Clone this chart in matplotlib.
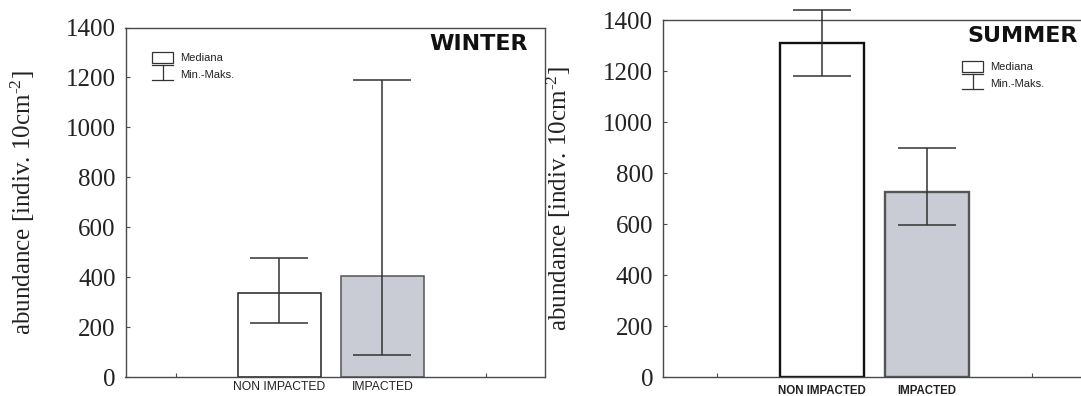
import matplotlib
matplotlib.use("Agg")
import matplotlib.pyplot as plt
from matplotlib.patches import Rectangle
from matplotlib.lines import Line2D

plt.rcParams['mathtext.fontset'] = 'custom'
plt.rcParams['mathtext.rm'] = 'Liberation Serif'
plt.rcParams['mathtext.it'] = 'Liberation Serif:italic'
plt.rcParams['mathtext.bf'] = 'Liberation Serif:bold'

# ---- data ----
categories = ["NON IMPACTED", "IMPACTED"]
winter_median = [337, 403]
winter_min = [217, 88]
winter_max = [477, 1189]
summer_median = [1312, 728]
summer_min = [1182, 597]
summer_max = [1442, 897]
yticks = [0, 200, 400, 600, 800, 1000, 1200, 1400]
ylabel = r"abundance [indiv. 10cm$^{\text{-2}}$]"
legend_labels = ["Mediana", "Min.-Maks."]

W, H = 1081, 396
fig = plt.figure(figsize=(W / 100, H / 100), dpi=100)

def px_axes(l, r, t, b):
    return fig.add_axes([l / W, (H - b) / H, (r - l) / W, (b - t) / H])

gray = "#c9ccd4"
spine_c = "#4a4a4a"
tr = fig.transFigure
def fx(x): return x / W
def fy(y): return 1 - y / H

def setup(ax, med, mn, mx, title, title_xy, title_ha, leg_xy, label_bold, xlim, ylab_x,
          edge_colors, edge_w, xpad):
    pos = [1, 2]
    ax.bar(pos, med, width=0.8, color=["white", gray], edgecolor=edge_colors,
           linewidth=edge_w, zorder=2)
    lower = [m - a for m, a in zip(med, mn)]
    upper = [b - m for m, b in zip(med, mx)]
    ax.errorbar(pos, med, yerr=[lower, upper], fmt="none", ecolor="#333333",
                elinewidth=1.1, capsize=21, capthick=1.1, zorder=3, clip_on=False)
    ax.set_xlim(*xlim)
    ax.set_ylim(0, 1400)
    ax.set_yticks(yticks)
    ax.set_yticklabels([str(v) for v in yticks], family="Liberation Serif", fontsize=18,
                       color="#222222")
    ax.set_xticks([0, 1, 2, 3])
    ax.set_xticklabels(["", categories[0], categories[1], ""],
                       family="Liberation Sans", fontsize=8.7 if not label_bold else 8.3,
                       fontweight="bold" if label_bold else "normal", color="#222222")
    ax.tick_params(axis="both", direction="in", length=3, width=0.8, color=spine_c)
    ax.tick_params(axis="y", pad=7)
    ax.tick_params(axis="x", pad=xpad)
    for s in ax.spines.values():
        s.set_color(spine_c)
        s.set_linewidth(1.0)
    ax.set_ylabel(ylabel, family="Liberation Serif", fontsize=18, color="#222222")
    ax.yaxis.set_label_coords(ylab_x, 0.5)
    fig.text(fx(title_xy[0]), fy(title_xy[1]), title, ha=title_ha, va="center",
             fontsize=16, fontweight="bold", family="DejaVu Sans", color="#111111")
    # manual legend (pixel coords)
    lx, ly = leg_xy
    fig.patches.append(Rectangle((fx(lx), fy(ly + 11)), 21 / W, 11 / H, transform=tr,
                                 facecolor="white", edgecolor="#333333", linewidth=0.9))
    for (x0, y0, x1, y1) in [(lx, ly + 13, lx + 21, ly + 13),
                             (lx, ly + 28, lx + 21, ly + 28),
                             (lx + 10.5, ly + 13, lx + 10.5, ly + 28)]:
        fig.lines.append(Line2D([fx(x0), fx(x1)], [fy(y0), fy(y1)], transform=tr,
                                color="#333333", linewidth=0.9))
    fig.text(fx(lx + 28), fy(ly + 6), legend_labels[0], fontsize=8, family="Liberation Sans",
             va="center", ha="left", color="#222222")
    fig.text(fx(lx + 28), fy(ly + 23), legend_labels[1], fontsize=8, family="Liberation Sans",
             va="center", ha="left", color="#222222")

ax1 = px_axes(125.5, 545, 27.5, 377)
setup(ax1, winter_median, winter_min, winter_max, "WINTER", (528, 44), "right", (152, 51.7),
      False, (-0.49, 3.575), (37 - 125.5) / (545 - 125.5),
      ["#222222", "#555555"], 1.1, 3)

ax2 = px_axes(663, 1101, 20.3, 377)
setup(ax2, summer_median, summer_min, summer_max, "SUMMER", (1078, 36), "right", (962, 60.7),
      True, (-0.51, 3.66), (573 - 663) / (1101 - 663),
      ["#111111", "#555555"], 1.7, 6)

fig.savefig("out.png", dpi=100)
